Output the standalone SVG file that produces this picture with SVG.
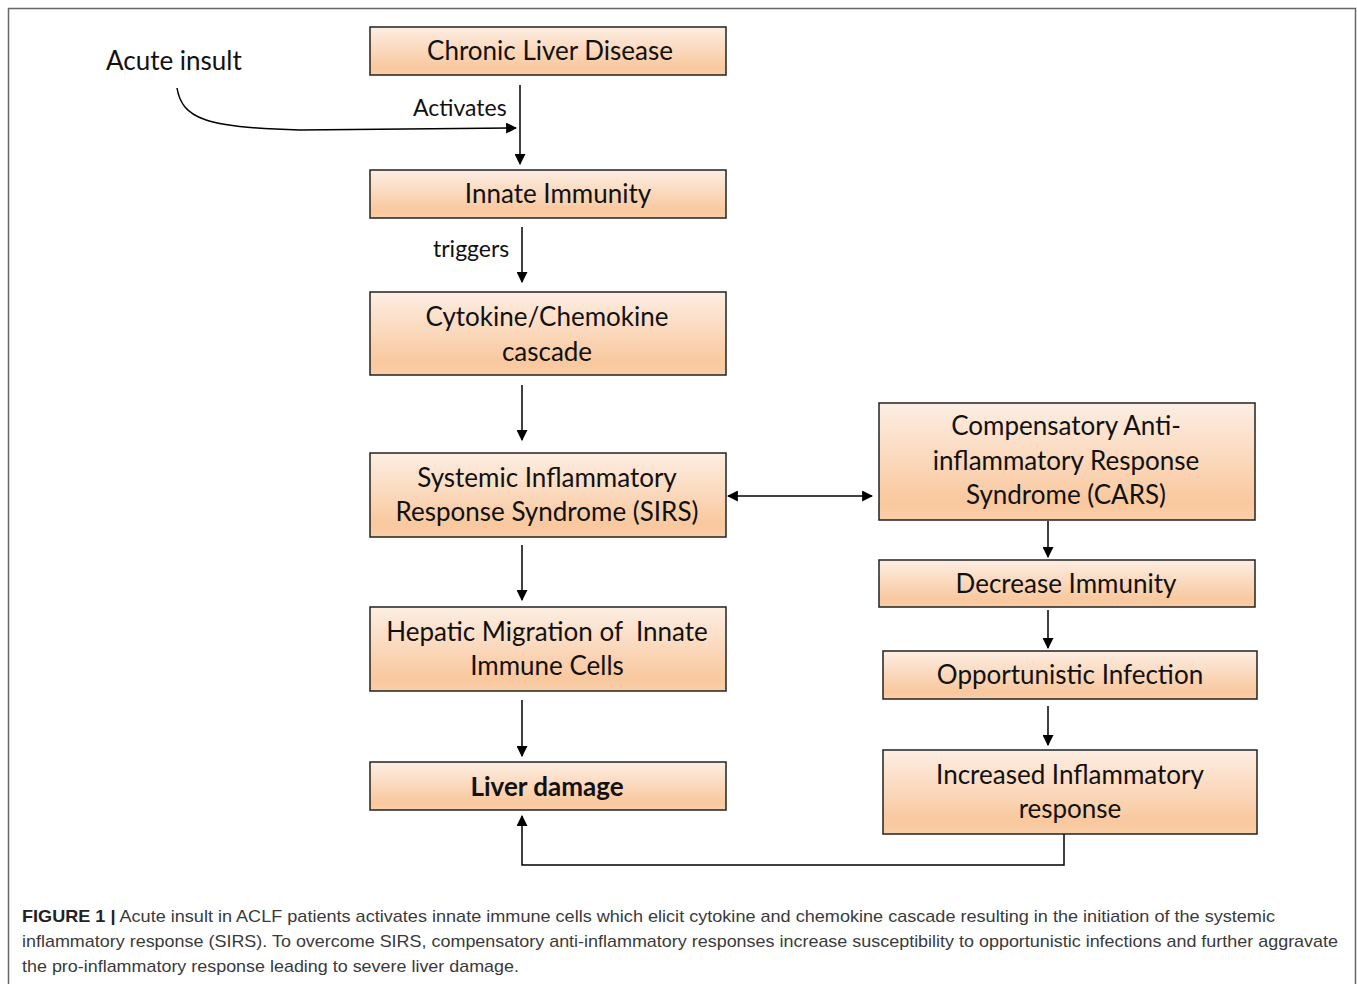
<svg xmlns="http://www.w3.org/2000/svg" width="1357" height="984" viewBox="0 0 1357 984">
<defs>
<linearGradient id="peach" x1="0" y1="0" x2="0" y2="1">
<stop offset="0" stop-color="#fdeee3"/>
<stop offset="0.85" stop-color="#f9c89e"/>
<stop offset="1" stop-color="#f9cfa9"/>
</linearGradient>
<marker id="ah" viewBox="0 0 10 10" refX="9" refY="5" markerWidth="11" markerHeight="11" markerUnits="userSpaceOnUse" orient="auto-start-reverse">
<path d="M0,0 L10,5 L0,10 z" fill="#000"/>
</marker>
<style>
.box{fill:url(#peach);stroke:#222;stroke-width:1.5}
.t{font-family:Lato,"Open Sans","Liberation Sans",sans-serif;font-size:26px;fill:#111;text-anchor:middle}
.l{font-family:Lato,"Open Sans","Liberation Sans",sans-serif;font-size:23px;fill:#111}
.c{stroke:#000;stroke-width:1.5;fill:none}
.cap{font-family:"Liberation Sans",Arial,sans-serif;font-size:17px;fill:#3a3a3a}
</style>
</defs>
<rect x="0" y="0" width="1357" height="984" fill="#fff"/>
<path d="M8.5,984 V8.5 H1355.5 V984" fill="none" stroke="#666" stroke-width="1.5"/>

<g id="connectors">
<line class="c" x1="520" y1="85" x2="520" y2="164" marker-end="url(#ah)"/>
<path class="c" d="M177,88 C182,118 205,128 300,130 L516,128" marker-end="url(#ah)"/>
<line class="c" x1="522" y1="227" x2="522" y2="282" marker-end="url(#ah)"/>
<line class="c" x1="522" y1="385" x2="522" y2="440" marker-end="url(#ah)"/>
<line class="c" x1="728" y1="496" x2="872" y2="496" marker-start="url(#ah)" marker-end="url(#ah)"/>
<line class="c" x1="522" y1="545" x2="522" y2="600" marker-end="url(#ah)"/>
<line class="c" x1="522" y1="700" x2="522" y2="756" marker-end="url(#ah)"/>
<line class="c" x1="1048" y1="521" x2="1048" y2="557" marker-end="url(#ah)"/>
<line class="c" x1="1048" y1="610" x2="1048" y2="648" marker-end="url(#ah)"/>
<line class="c" x1="1048" y1="706" x2="1048" y2="745" marker-end="url(#ah)"/>
<path class="c" d="M1064,834 V865 H522 V816" marker-end="url(#ah)"/>
</g>

<g id="acute-insult"><text class="l" x="106" y="70" style="font-size:26px">Acute insult</text></g>
<g id="label-activates"><text class="l" x="413" y="116">Activates</text></g>
<g id="label-triggers"><text class="l" x="433" y="257">triggers</text></g>

<g id="chronic-liver-disease">
<rect class="box" x="370" y="27" width="356" height="48"/>
<text class="t" x="550" y="60">Chronic Liver Disease</text>
</g>
<g id="innate-immunity">
<rect class="box" x="370" y="170" width="356" height="48"/>
<text class="t" x="558" y="203">Innate Immunity</text>
</g>
<g id="cytokine-cascade">
<rect class="box" x="370" y="292" width="356" height="83"/>
<text class="t" x="547" y="326">Cytokine/Chemokine</text>
<text class="t" x="547" y="361">cascade</text>
</g>
<g id="sirs">
<rect class="box" x="370" y="453" width="356" height="84"/>
<text class="t" x="547" y="487">Systemic Inflammatory</text>
<text class="t" x="547" y="521">Response Syndrome (SIRS)</text>
</g>
<g id="hepatic-migration">
<rect class="box" x="370" y="607" width="356" height="84"/>
<text class="t" x="547" y="641" xml:space="preserve">Hepatic Migration of  Innate</text>
<text class="t" x="547" y="675">Immune Cells</text>
</g>
<g id="liver-damage">
<rect class="box" x="370" y="762" width="356" height="48"/>
<text class="t" x="547" y="796" style="font-weight:bold">Liver damage</text>
</g>
<g id="cars">
<rect class="box" x="879" y="403" width="376" height="117"/>
<text class="t" x="1066" y="435">Compensatory Anti-</text>
<text class="t" x="1066" y="470">inflammatory Response</text>
<text class="t" x="1066" y="504">Syndrome (CARS)</text>
</g>
<g id="decrease-immunity">
<rect class="box" x="879" y="560" width="376" height="47"/>
<text class="t" x="1066" y="593">Decrease Immunity</text>
</g>
<g id="opportunistic-infection">
<rect class="box" x="883" y="651" width="374" height="48"/>
<text class="t" x="1070" y="684">Opportunistic Infection</text>
</g>
<g id="increased-inflammatory">
<rect class="box" x="883" y="750" width="374" height="84"/>
<text class="t" x="1070" y="784">Increased Inflammatory</text>
<text class="t" x="1070" y="818">response</text>
</g>

<g id="caption">
<text class="cap" x="22" y="922" textLength="1253" lengthAdjust="spacingAndGlyphs"><tspan font-weight="bold" fill="#222">FIGURE 1 |</tspan> Acute insult in ACLF patients activates innate immune cells which elicit cytokine and chemokine cascade resulting in the initiation of the systemic</text>
<text class="cap" x="22" y="947" textLength="1316" lengthAdjust="spacingAndGlyphs">inflammatory response (SIRS). To overcome SIRS, compensatory anti-inflammatory responses increase susceptibility to opportunistic infections and further aggravate</text>
<text class="cap" x="22" y="972" textLength="497" lengthAdjust="spacingAndGlyphs">the pro-inflammatory response leading to severe liver damage.</text>
</g>
</svg>
